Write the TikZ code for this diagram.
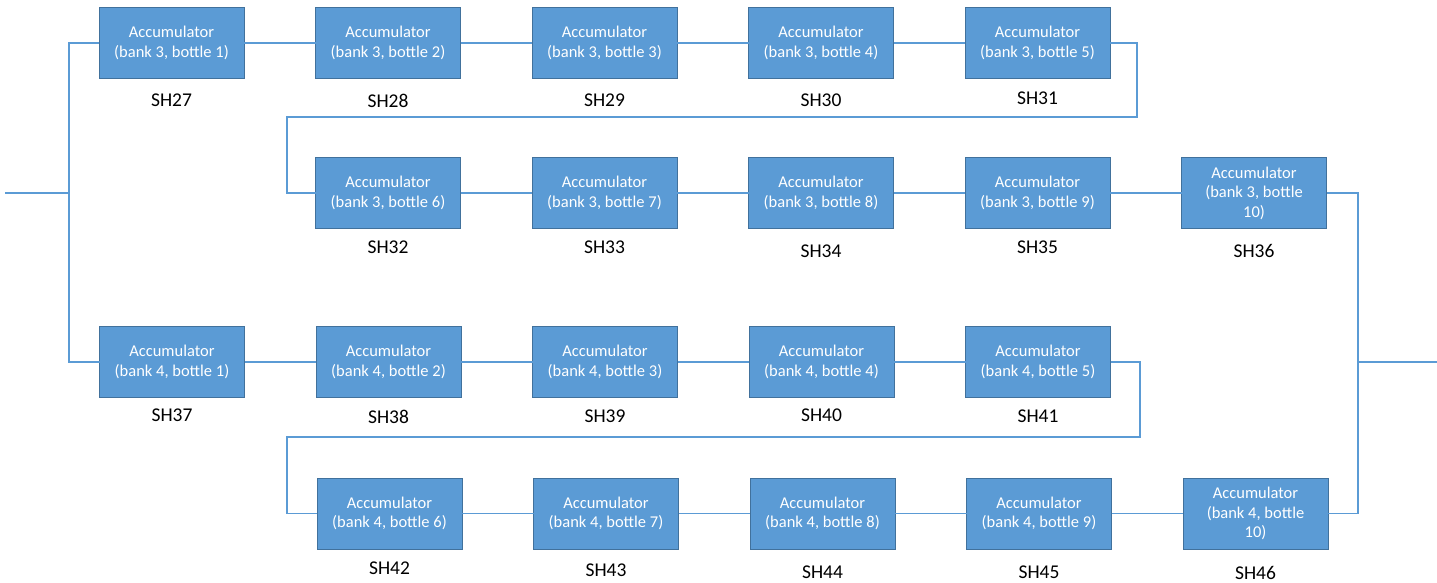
\documentclass[tikz,border=0pt]{standalone}
\usepackage{fontspec}
\setmainfont{Carlito}
\usetikzlibrary{positioning}

\definecolor{accfill}{HTML}{5B9BD5}
\definecolor{accdraw}{HTML}{41719C}

\begin{document}
\begin{tikzpicture}[
  x=1pt, y=-1pt,
  node distance=15pt and 71.5pt,
  acc/.style={rectangle, draw=accdraw, fill=accfill, line width=1pt, text=white,
    minimum width=145pt, minimum height=71pt, align=center, inner sep=0pt, outer sep=0pt,
    font=\fontsize{16.5}{19.5}\selectfont},
  tag/.style={inner sep=0pt, font=\fontsize{19.5}{21}\selectfont},
  pipe/.style={draw=accfill, line width=1.2pt},
]
\useasboundingbox (0,0) rectangle (1437,583);

% Bank 3, first row
\node[acc] (b27) at (171.5,43) {Accumulator\\(bank 3, bottle 1)};
\node[acc, right=of b27] (b28) {Accumulator\\(bank 3, bottle 2)};
\node[acc, right=of b28] (b29) {Accumulator\\(bank 3, bottle 3)};
\node[acc, right=of b29] (b30) {Accumulator\\(bank 3, bottle 4)};
\node[acc, right=of b30] (b31) {Accumulator\\(bank 3, bottle 5)};

% Bank 3, second row
\node[acc] (b32) at (388,193) {Accumulator\\(bank 3, bottle 6)};
\node[acc, right=of b32] (b33) {Accumulator\\(bank 3, bottle 7)};
\node[acc, right=of b33] (b34) {Accumulator\\(bank 3, bottle 8)};
\node[acc, right=of b34] (b35) {Accumulator\\(bank 3, bottle 9)};
\node[acc, right=of b35] (b36) {Accumulator\\(bank 3, bottle\\10)};

% Bank 4, first row
\node[acc] (b37) at (172,362) {Accumulator\\(bank 4, bottle 1)};
\node[acc, right=of b37] (b38) {Accumulator\\(bank 4, bottle 2)};
\node[acc, right=of b38] (b39) {Accumulator\\(bank 4, bottle 3)};
\node[acc, right=of b39] (b40) {Accumulator\\(bank 4, bottle 4)};
\node[acc, right=of b40] (b41) {Accumulator\\(bank 4, bottle 5)};

% Bank 4, second row
\node[acc] (b42) at (389.5,513.5) {Accumulator\\(bank 4, bottle 6)};
\node[acc, right=of b42] (b43) {Accumulator\\(bank 4, bottle 7)};
\node[acc, right=of b43] (b44) {Accumulator\\(bank 4, bottle 8)};
\node[acc, right=of b44] (b45) {Accumulator\\(bank 4, bottle 9)};
\node[acc, right=of b45] (b46) {Accumulator\\(bank 4, bottle\\10)};

% Tags
\node[tag, below=of b27] (t27) {SH27};
\node[tag, below=of b28] (t28) {SH28};
\node[tag, below=of b29] (t29) {SH29};
\node[tag, below=of b30] (t30) {SH30};
\node[tag, below=13pt of b31] (t31) {SH31};
\node[tag, below=12pt of b32] (t32) {SH32};
\node[tag, below=12pt of b33] (t33) {SH33};
\node[tag, below=16pt of b34] (t34) {SH34};
\node[tag, below=12pt of b35] (t35) {SH35};
\node[tag, below=16pt of b36] (t36) {SH36};
\node[tag, below=11pt of b37] (t37) {SH37};
\node[tag, below=12pt of b38] (t38) {SH38};
\node[tag, below=12pt of b39] (t39) {SH39};
\node[tag, below=11pt of b40] (t40) {SH40};
\node[tag, below=12pt of b41] (t41) {SH41};
\node[tag, below=13pt of b42] (t42) {SH42};
\node[tag, below=15pt of b43] (t43) {SH43};
\node[tag, below=17pt of b44] (t44) {SH44};
\node[tag, below=17pt of b45] (t45) {SH45};
\node[tag, below=17pt of b46] (t46) {SH46};

% Bus points
\coordinate (in) at (5,193);
\coordinate (busL) at (69,193);
\coordinate (busR) at (1358,362);
\coordinate (out) at (1437,362);
\coordinate (r1) at (1137,117);
\coordinate (l1) at (287,117);
\coordinate (r2) at (1140,437);
\coordinate (l2) at (287,437);

% Connections
\draw[pipe] (in) -- (busL);
\draw[pipe] (busL) |- (b27.west);
\draw[pipe] (busL) |- (b37.west);

\draw[pipe] (b27) -- (b28);
\draw[pipe] (b28) -- (b29);
\draw[pipe] (b29) -- (b30);
\draw[pipe] (b30) -- (b31);
\draw[pipe] (b31.east) -| (r1) -- (l1) |- (b32.west);
\draw[pipe] (b32) -- (b33);
\draw[pipe] (b33) -- (b34);
\draw[pipe] (b34) -- (b35);
\draw[pipe] (b35) -- (b36);

\draw[pipe] (b37) -- (b38);
\draw[pipe] (b38) -- (b39);
\draw[pipe] (b39) -- (b40);
\draw[pipe] (b40) -- (b41);
\draw[pipe] (b41.east) -| (r2) -- (l2) |- (b42.west);
\draw[pipe] (b42) -- (b43);
\draw[pipe] (b43) -- (b44);
\draw[pipe] (b44) -- (b45);
\draw[pipe] (b45) -- (b46);

\draw[pipe] (b36.east) -| (busR);
\draw[pipe] (b46.east) -| (busR);
\draw[pipe] (busR) -- (out);

\end{tikzpicture}
\end{document}
